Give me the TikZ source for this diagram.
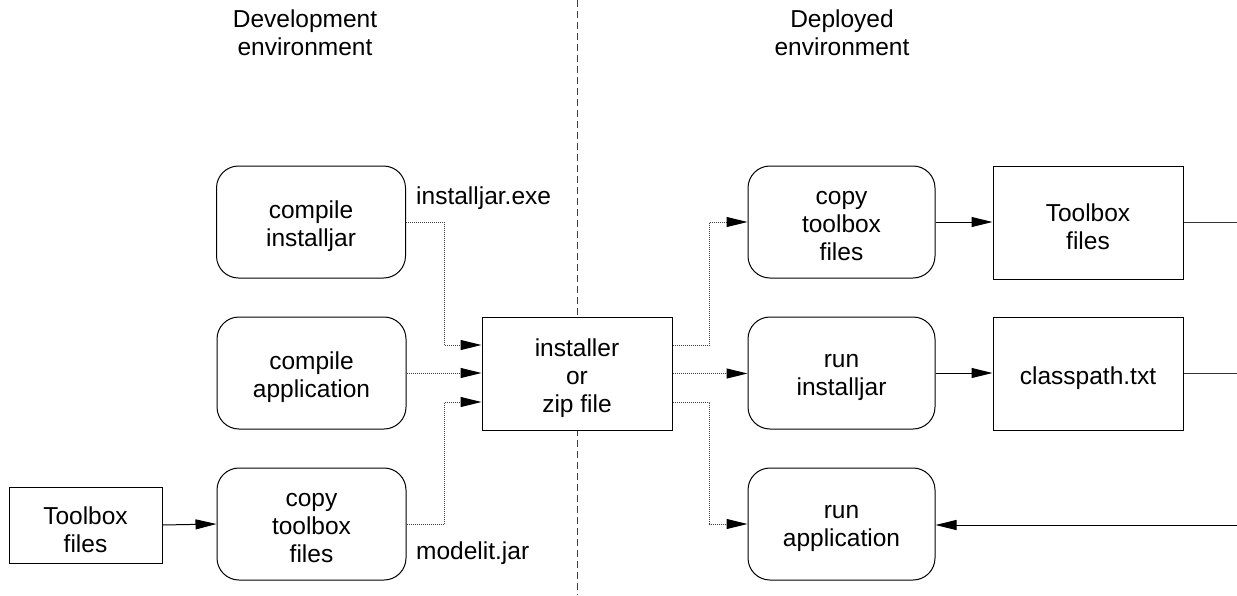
\documentclass[tikz,border=0pt]{standalone}
\usepackage{fontspec}
\setmainfont{Liberation Sans}
\usetikzlibrary{arrows.meta,calc}
\begin{document}
\begin{tikzpicture}[x=1pt,y=-1pt,
  every node/.style={font=\fontsize{24.5}{28}\selectfont, align=center, inner sep=0pt},
  txt/.style={label={[yshift=-4.5pt]center:#1}},
  rbox/.style={draw=black, line width=1pt, rounded corners=22pt, fill=white, minimum width=189pt, minimum height=112pt},
  sbox/.style={draw=black, line width=1pt, fill=white, minimum width=190pt, minimum height=113pt},
  lbl/.style={anchor=west},
  tip/.style={-{Triangle[length=21pt,width=10pt,color=black]}},
  solidarr/.style={tip, draw=black, line width=1pt},
  solidline/.style={draw=black!80, line width=1pt},
  dotarr/.style={tip, draw=black!75, line width=1pt, dash pattern=on 1pt off 1pt}
]
\useasboundingbox (0,0) rectangle (1237,595);
\fill[white] (0,0) rectangle (1237,595);

% divider
\coordinate (dtop) at (577,0);
\coordinate (dbot) at (577,595);
\draw[black!75, line width=1pt, dash pattern=on 7pt off 4pt] (dtop) -- (dbot);

% titles
\node (tdev) at (305,33) {Development\\environment};
\node (tdep) at (842,33) {Deployed\\environment};

% left column
\node[rbox, txt={compile\\installjar}] (ci) at (311,222) {};
\node[rbox, txt={compile\\application}] (ca) at (311.5,373) {};
\node[rbox, txt={copy\\toolbox\\files}] (ct) at (311.5,524) {};
\node[draw=black, line width=1pt, fill=white, minimum width=153pt, minimum height=76pt, txt={Toolbox\\files}] (tb) at (85.5,525) {};

% installer
\node[sbox, txt={installer\\or\\zip file}] (inst) at (577,373.5) {};

% right column
\node[rbox, minimum width=187pt, txt={copy\\toolbox\\files}] (rct) at (841.5,222) {};
\node[rbox, minimum width=187pt, txt={run\\installjar}] (ri) at (841.5,373) {};
\node[rbox, minimum width=187pt, txt={run\\application}] (ra) at (841.5,524) {};
\node[sbox, txt={Toolbox\\files}] (tbr) at (1088,222.5) {};
\node[sbox, txt={classpath.txt}] (cp) at (1088,373.5) {};

% labels
\node[lbl] (lexe) at (416,198) {installjar.exe};
\node[lbl] (ljar) at (416,553) {modelit.jar};

% connectors left
\draw[solidarr] (tb.east) -- (ct.west);
\draw[dotarr] (ci.east) -| ($(inst.west)+(-37,-28.5)$) -- ($(inst.west)+(0,-28.5)$);
\draw[dotarr] (ca.east) -- (ca.east -| inst.west);
\draw[dotarr] (ct.east) -| ($(inst.west)+(-37,28.5)$) -- ($(inst.west)+(0,28.5)$);

% connectors right
\draw[dotarr] ($(inst.east)+(0,-28.5)$) -- ($(inst.east)+(37,-28.5)$) |- (rct.west);
\draw[dotarr] (inst.east) -- (inst.east -| ri.west);
\draw[dotarr] ($(inst.east)+(0,28.5)$) -- ($(inst.east)+(37,28.5)$) |- (ra.west);
\draw[solidarr] (rct.east) -- (rct.east -| tbr.west);
\draw[solidarr] (ri.east) -- (ri.east -| cp.west);

\coordinate (e1) at (1237,222.5);
\coordinate (e2) at (1237,373.5);
\coordinate (e3) at (1237,525);
\draw[solidline] (tbr.east) -- (e1);
\draw[solidline] (cp.east) -- (e2);
\draw[solidarr] (e3) -- (e3 -| ra.east);
\end{tikzpicture}
\end{document}
